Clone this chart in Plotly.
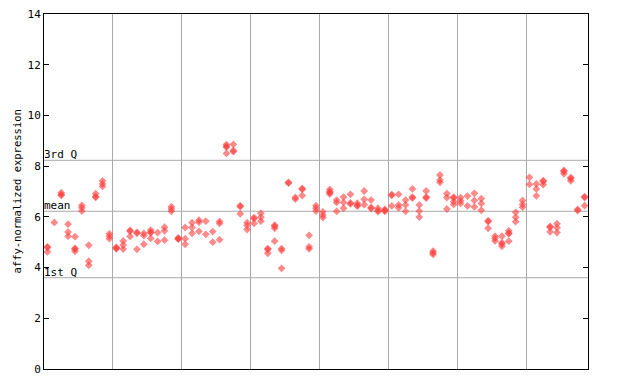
import plotly.graph_objects as go

# expression values per sample (replicates)
samples = [
    [4.79, 4.82, 4.62], [5.78], [6.95, 6.88, 6.85], [5.71, 5.40, 5.24],
    [5.22, 4.76, 4.73, 4.64], [6.45, 6.36, 6.23], [4.88, 4.25, 4.09],
    [6.92, 6.80, 6.77], [7.42, 7.30, 7.20], [5.33, 5.24, 5.14],
    [4.80, 4.77, 4.74], [5.05, 4.89, 4.73], [5.47, 5.43, 5.23],
    [5.39, 5.35, 4.72], [5.35, 5.26, 4.92], [5.48, 5.40, 5.37, 5.15],
    [5.38, 5.03], [5.59, 5.45, 5.08], [6.40, 6.31, 6.22],
    [5.17, 5.14, 5.12], [5.58, 5.14, 4.92], [5.77, 5.58, 5.35],
    [5.87, 5.79, 5.43], [5.83, 5.31], [5.42, 5.00], [5.82, 5.74, 5.10],
    [8.85, 8.78, 8.75, 8.50], [8.86, 8.62, 8.57], [6.44, 6.40, 6.12],
    [5.77, 5.66, 5.50], [5.97, 5.93, 5.74], [6.14, 5.98, 5.83],
    [4.75, 4.71, 4.56], [5.67, 5.63, 5.55, 5.04], [4.75, 4.68, 3.97],
    [7.36, 7.33], [6.77, 6.70], [7.12, 7.08, 6.84], [5.27, 4.82, 4.74],
    [6.44, 6.34, 6.23], [6.20, 6.07, 5.97], [7.08, 6.99, 6.96, 6.90],
    [6.66, 6.57, 6.22], [6.78, 6.57, 6.34], [6.89, 6.55, 6.51],
    [6.54, 6.46, 6.42], [7.02, 6.69, 6.48], [6.66, 6.37, 6.33],
    [6.34, 6.25, 6.21], [6.29, 6.26, 6.22], [6.88, 6.85, 6.43],
    [6.89, 6.47, 6.36], [6.66, 6.47, 6.22], [7.10, 6.78, 6.74],
    [6.47, 6.23, 5.99], [7.02, 6.78, 6.74], [4.65, 4.58, 4.52],
    [7.65, 7.45, 7.36], [6.92, 6.76, 6.31], [6.78, 6.74, 6.60, 6.49],
    [6.76, 6.64, 6.53], [6.82, 6.43], [6.93, 6.65, 6.39],
    [6.72, 6.53, 6.26], [5.85, 5.81, 5.55], [5.24, 5.15, 5.05],
    [5.24, 4.98, 4.93, 4.84], [5.45, 5.36, 5.33, 5.04], [6.18, 5.98, 5.81],
    [6.65, 6.49, 6.38], [7.56, 7.28], [7.30, 7.10, 6.83],
    [7.43, 7.39, 7.27], [5.62, 5.59, 5.41], [5.73, 5.57, 5.38],
    [7.83, 7.79, 7.70], [7.55, 7.51, 7.42], [6.29, 6.25], [6.80, 6.76, 6.44],
]

group_bounds = [9.5, 19.5, 29.5, 39.5, 49.5, 59.5, 69.5]
y_ticks = [0, 2, 4, 6, 8, 10, 12, 14]
ref_labels = ["3rd Q", "mean", "1st Q"]
ref_values = [8.23, 6.22, 3.60]

xs, ys = [], []
for i, reps in enumerate(samples):
    for v in reps:
        xs.append(i)
        ys.append(v)

fig = go.Figure()
fig.add_trace(go.Scatter(
    x=xs, y=ys, mode="markers",
    marker=dict(symbol="diamond", size=6, color="rgba(255,60,60,0.6)",
                line=dict(width=0)),
    hoverinfo="y", showlegend=False,
))

font = dict(family="DejaVu Sans Mono", size=11, color="black")

for lab, v in zip(ref_labels, ref_values):
    fig.add_shape(type="line", xref="paper", x0=0, x1=1, y0=v, y1=v,
                  line=dict(color="#aaaaaa", width=1), layer="below")
    fig.add_annotation(xref="paper", x=0, y=v, text=lab, showarrow=False,
                       xanchor="left", yanchor="bottom", xshift=-2, yshift=-3,
                       font=font)

# y axis title as a rotated annotation for exact placement
fig.add_annotation(xref="paper", yref="paper", x=0, y=0.5,
                   text="affy-normalized expression", showarrow=False,
                   textangle=-90, xanchor="center", yanchor="middle",
                   xshift=-28, font=dict(family="DejaVu Sans Mono", size=10.5,
                                         color="black"))

fig.update_layout(
    width=632, height=376,
    margin=dict(l=36, r=52, t=6, b=15, autoexpand=False),
    paper_bgcolor="white", plot_bgcolor="white",
    font=font,
    xaxis=dict(range=[-0.5, len(samples) - 0.5], tickvals=group_bounds,
               showticklabels=False, ticks="", showgrid=True,
               gridcolor="#aaaaaa", gridwidth=1, zeroline=False,
               showline=True, linecolor="black", linewidth=1, mirror=True,
               automargin=False),
    yaxis=dict(range=[0, 14.0001], tickvals=y_ticks, ticks="inside", ticklen=5,
               tickcolor="black", showgrid=False, zeroline=False,
               showline=True, linecolor="black", linewidth=1, mirror="ticks",
               automargin=False, ticklabelstandoff=0,
               ticklabeloverflow="allow", tickfont=font),
)

fig.write_html("out.html")
